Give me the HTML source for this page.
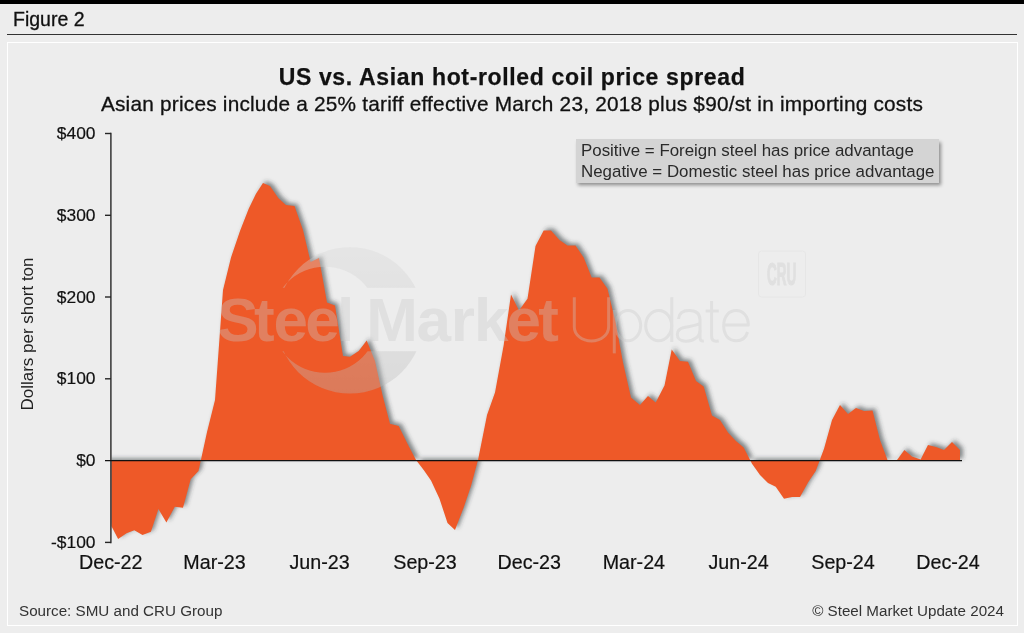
<!DOCTYPE html>
<html>
<head>
<meta charset="utf-8">
<title>Figure 2 - US vs. Asian hot-rolled coil price spread</title>
<style>
html,body{margin:0;padding:0;}
body{width:1024px;height:633px;overflow:hidden;background:#ededed;position:relative;font-family:"Liberation Sans",sans-serif;color:#111;}
.topbar{position:absolute;left:0;top:0;width:1024px;height:4px;background:#000;}
.fig{position:absolute;left:13px;top:8px;font-size:19.5px;line-height:23px;color:#111;white-space:nowrap;}
.rule{position:absolute;left:7px;top:34px;width:1010px;height:1px;background:#333;}
.panel{position:absolute;left:7px;top:42px;width:1009px;height:582px;border:1px solid #fff;}
.title{position:absolute;left:0;width:1024px;top:64px;text-align:center;font-weight:bold;font-size:23px;letter-spacing:0.65px;line-height:26px;color:#111;white-space:nowrap;}
.subtitle{position:absolute;left:0;width:1024px;top:92px;text-align:center;font-size:20.8px;letter-spacing:0.22px;line-height:24px;color:#111;white-space:nowrap;}
.ylab{position:absolute;width:60px;text-align:right;font-size:17.4px;line-height:20px;left:35.5px;margin-top:-1px;color:#111;white-space:nowrap;}
.xlab{position:absolute;width:100px;text-align:center;font-size:19.7px;line-height:22px;top:551px;color:#111;white-space:nowrap;}
.ytitle{position:absolute;left:28px;top:334px;width:0;height:0;}
.ytitle span{position:absolute;left:-100px;top:-10px;width:200px;height:20px;line-height:20px;text-align:center;font-size:17px;color:#222;transform:rotate(-90deg);white-space:nowrap;}
.note{position:absolute;left:576px;top:138.6px;width:363px;height:44.2px;background:#d4d4d4;box-shadow:2px 2.5px 3.5px rgba(0,0,0,0.4);}
.note div{position:absolute;left:5px;font-size:16.9px;line-height:20px;color:#2a2a2a;white-space:nowrap;}
.src{position:absolute;left:19px;top:602px;font-size:15.2px;line-height:18px;color:#333;white-space:nowrap;}
.copy{position:absolute;right:20px;top:602px;font-size:15.2px;line-height:18px;color:#333;white-space:nowrap;}
svg{position:absolute;left:0;top:0;}
#wrap{position:absolute;left:0;top:0;width:1024px;height:633px;will-change:transform;}
.fig,.subtitle{-webkit-text-stroke:0.3px #111;}
.ylab,.xlab{-webkit-text-stroke:0.2px #111;}
.title{-webkit-text-stroke:0.25px #111;}
</style>
</head>
<body>
<div id="wrap">
<div class="topbar"></div>
<div class="fig">Figure 2</div>
<div class="rule"></div>
<div class="panel"></div>

<div class="title">US vs. Asian hot-rolled coil price spread</div>
<div class="subtitle">Asian prices include a 25% tariff effective March 23, 2018 plus $90/st in importing costs</div>

<svg width="1024" height="633" viewBox="0 0 1024 633">
  <defs>
    <filter id="sh" x="-5%" y="-5%" width="110%" height="110%">
      <feGaussianBlur in="SourceAlpha" stdDeviation="2" result="b"/>
      <feOffset in="b" dx="3" dy="-2" result="o"/>
      <feFlood flood-color="#30373a" flood-opacity="0.56"/>
      <feComposite in2="o" operator="in"/>
    </filter>
    <clipPath id="plotclip"><rect x="111.5" y="120" width="880" height="440"/></clipPath>
    <linearGradient id="wg" x1="0" y1="0" x2="0" y2="1">
      <stop offset="0" stop-color="#d8d8d8"/>
      <stop offset="1" stop-color="#b8b8b8"/>
    </linearGradient>
    <clipPath id="bandclip">
      <rect x="260" y="240" width="180" height="47.75"/>
      <rect x="260" y="351.25" width="180" height="50"/>
    </clipPath>
  </defs>

  <!-- area series -->
  <g clip-path="url(#plotclip)">
    <path d="M100,460.5 L100,526.2 L111,526.2 L118.1,539 L126.5,533.3 L134.3,530.2 L142.5,535 L150.9,531.7 L158.4,509 L166.4,522.4 L174.8,506.7 L183,507.8 L190.7,479.3 L198.5,470.9 L207,432 L215,400 L223,290 L231,257.5 L240,231 L248.7,208.7 L256,193.7 L263,183 L270,186 L278.5,198.3 L286,205 L294.5,206 L303,230 L310.6,262 L319,258 L327,302.5 L335,305.6 L343,356 L350,356.7 L358.7,351 L366.7,340.5 L375,361 L382.5,395 L390,423.7 L398.7,426 L407.5,443.7 L416,460 L423.7,470 L431,480.5 L439.5,498.7 L447.5,523 L455,530 L463.7,507.5 L471,486 L478,460 L487,415 L495,392.5 L503.7,345 L511,294.5 L519,310.5 L527.5,298.7 L535.5,246 L543.7,230.5 L551,230.5 L559.5,240 L567.5,245.5 L575.5,245.5 L583.7,257.5 L591.7,277.5 L599.5,277.5 L607.5,288.7 L615.5,322 L623,362.5 L631,397.5 L640,405 L648,396 L655.7,402.5 L664.5,385.5 L671.7,349.5 L680,361 L688,361.7 L696,381 L703.7,386.5 L712,415.5 L720,420 L728,432.5 L735.7,440.7 L743.7,447.5 L752,463.7 L760,475 L768,483 L775.7,486.7 L784,498.7 L792,497 L800,497 L808,482.5 L815.7,471 L824,448.7 L832,420 L840,405 L848,414 L856,408 L864,411 L872.5,410.5 L880,440 L887.5,460 L897,460 L904.4,450 L912,456.5 L920.6,459.6 L928,445 L936,447 L944,450 L952,442 L960,450 L960,460.5 Z" fill="#000" filter="url(#sh)"/>
  </g>
  <path d="M111.5,460.5 L111.5,526.2 L118.1,539 L126.5,533.3 L134.3,530.2 L142.5,535 L150.9,531.7 L158.4,509 L166.4,522.4 L174.8,506.7 L183,507.8 L190.7,479.3 L198.5,470.9 L207,432 L215,400 L223,290 L231,257.5 L240,231 L248.7,208.7 L256,193.7 L263,183 L270,186 L278.5,198.3 L286,205 L294.5,206 L303,230 L310.6,262 L319,258 L327,302.5 L335,305.6 L343,356 L350,356.7 L358.7,351 L366.7,340.5 L375,361 L382.5,395 L390,423.7 L398.7,426 L407.5,443.7 L416,460 L423.7,470 L431,480.5 L439.5,498.7 L447.5,523 L455,530 L463.7,507.5 L471,486 L478,460 L487,415 L495,392.5 L503.7,345 L511,294.5 L519,310.5 L527.5,298.7 L535.5,246 L543.7,230.5 L551,230.5 L559.5,240 L567.5,245.5 L575.5,245.5 L583.7,257.5 L591.7,277.5 L599.5,277.5 L607.5,288.7 L615.5,322 L623,362.5 L631,397.5 L640,405 L648,396 L655.7,402.5 L664.5,385.5 L671.7,349.5 L680,361 L688,361.7 L696,381 L703.7,386.5 L712,415.5 L720,420 L728,432.5 L735.7,440.7 L743.7,447.5 L752,463.7 L760,475 L768,483 L775.7,486.7 L784,498.7 L792,497 L800,497 L808,482.5 L815.7,471 L824,448.7 L832,420 L840,405 L848,414 L856,408 L864,411 L872.5,410.5 L880,440 L887.5,460 L897,460 L904.4,450 L912,456.5 L920.6,459.6 L928,445 L936,447 L944,450 L952,442 L960,450 L960,460.5 Z" fill="#ee5928"/>

  <!-- axes -->
  <g stroke="#262626" stroke-width="1.4" fill="none">
    <line x1="110.9" y1="132.8" x2="110.9" y2="543.2"/>
    <line x1="105" y1="133.5" x2="111" y2="133.5"/>
    <line x1="105" y1="215.3" x2="111" y2="215.3"/>
    <line x1="105" y1="297" x2="111" y2="297"/>
    <line x1="105" y1="378.8" x2="111" y2="378.8"/>
    <line x1="105" y1="542.4" x2="111" y2="542.4"/>
  </g>
  <line x1="105" y1="460.6" x2="962" y2="460.6" stroke="#111" stroke-width="1.4"/>

  <!-- watermark -->
  <g opacity="0.35">
    <g clip-path="url(#bandclip)">
      <path fill="url(#wg)" fill-rule="evenodd" d="M276.8,320.4 a73.2,73.2 0 1,0 146.4,0 a73.2,73.2 0 1,0 -146.4,0 Z M272,319.7 a53,53 0 1,0 106,0 a53,53 0 1,0 -106,0 Z"/>
    </g>
    <text y="341.3" x="217.2 253.9 273.4 305.2 337.0" font-family="Liberation Sans, sans-serif" font-size="62" font-weight="bold" fill="#c8c8c8">Steel</text>
    <text y="341.3" x="366.3 416.6 450.8 474.1 506.4 538.2" font-family="Liberation Sans, sans-serif" font-size="62" font-weight="bold" fill="#c8c8c8">Market</text>
    <g fill="none" stroke="#c8c8c8" stroke-width="3" stroke-linecap="butt" stroke-linejoin="round" aria-label="Update">
      <path d="M574.3,297.2 L574.3,327 A17.15,14 0 0 0 608.6,327 L608.6,297.2"/>
      <path d="M614.3,310 L614.3,353.4"/>
      <ellipse cx="628" cy="325.6" rx="12.7" ry="15.1"/>
      <ellipse cx="658.7" cy="325.6" rx="13" ry="15.1"/>
      <path d="M671.8,297.2 L671.8,342"/>
      <path d="M678.5,319 C679,313 683,310.6 689,310.6 C696,310.6 700,314 700,320 L700,337.5 Q700,341.5 703.8,341"/>
      <path d="M700,323.5 C695,326 688,326.5 684,327.5 C679.5,328.5 677.3,331 677.3,334.5 C677.3,338.5 680.5,341.2 686,341.2 C693,341.2 700,337 700,330.5"/>
      <path d="M711.6,301 L711.6,336 Q711.6,341.3 716,341.3 L718.7,341"/>
      <path d="M705.6,311 L718.7,311"/>
      <path d="M724,325 L748.3,325 C748.3,316 743,310.5 736,310.5 C728.5,310.5 723.7,317 723.7,325.6 C723.7,335 728.5,340.8 736.3,340.8 C742,340.8 746,337.5 747.5,332"/>
    </g>
  </g>

  <!-- CRU mark -->
  <rect x="758.5" y="251" width="47" height="46" rx="3" ry="3" fill="none" stroke="#e6e6e6" stroke-width="1"/>
  <text transform="translate(767,285) scale(0.437,1)" font-family="Liberation Sans, sans-serif" font-weight="bold" font-size="31" fill="#e0e0e0" stroke="#e0e0e0" stroke-width="0.9" vector-effect="non-scaling-stroke" style="vector-effect:non-scaling-stroke">CRU</text>
</svg>

<div class="ylab" style="top:124px">$400</div>
<div class="ylab" style="top:206px">$300</div>
<div class="ylab" style="top:288px">$200</div>
<div class="ylab" style="top:369px">$100</div>
<div class="ylab" style="top:451px">$0</div>
<div class="ylab" style="top:533px">-$100</div>

<div class="ytitle"><span>Dollars per short ton</span></div>

<div class="xlab" style="left:60.75px">Dec-22</div>
<div class="xlab" style="left:164.5px">Mar-23</div>
<div class="xlab" style="left:269.5px">Jun-23</div>
<div class="xlab" style="left:375px">Sep-23</div>
<div class="xlab" style="left:479.25px">Dec-23</div>
<div class="xlab" style="left:583.9px">Mar-24</div>
<div class="xlab" style="left:688.5px">Jun-24</div>
<div class="xlab" style="left:793px">Sep-24</div>
<div class="xlab" style="left:898px">Dec-24</div>

<div class="note">
  <div style="top:2.9px">Positive = Foreign steel has price advantage</div>
  <div style="top:23.9px">Negative = Domestic steel has price advantage</div>
</div>

<div class="src">Source: SMU and CRU Group</div>
<div class="copy">&copy; Steel Market Update 2024</div>
</div>
</body>
</html>
